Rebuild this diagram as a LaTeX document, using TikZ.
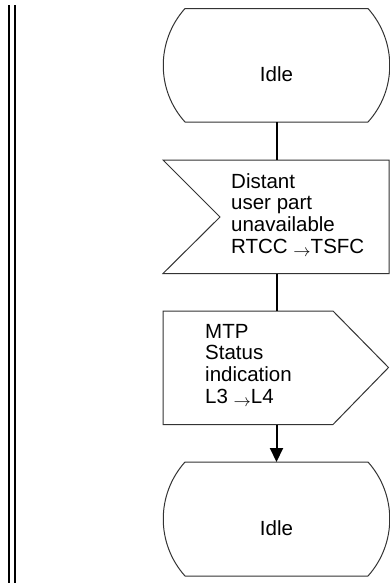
\documentclass[tikz,border=0pt]{standalone}
\usepackage{fontspec}
\setmainfont{Liberation Sans}
\usetikzlibrary{arrows.meta}
\newcommand{\sarr}{\raisebox{-3.5pt}{\fontsize{18}{18}\selectfont$\rightarrow$}}
\begin{document}
\begin{tikzpicture}[x=1pt,y=-1pt,
  outl/.style={draw=black!80, line width=1pt, line join=miter},
  conn/.style={draw=black, line width=2pt},
  rail/.style={draw=black, line width=2pt},
  lbl/.style={inner sep=0pt, font=\fontsize{20.5}{21.8}\selectfont}]
\useasboundingbox (0,0) rectangle (390,587);
% left rails
\draw[rail] (9,5) -- (9,582.5);
\draw[rail] (15,5) -- (15,582.5);
% top Idle state
\draw[outl] (185,8.5) -- (368,8.5) .. controls (397,41) and (397,90) .. (368,122)
  -- (185,122) .. controls (156,90) and (156,41) .. (185,8.5) -- cycle;
\node[lbl, anchor=base] (idle1) at (276.5,81) {Idle};
\coordinate (idle1b) at (276.5,122);
% input signal
\draw[outl] (163,160) -- (389,160) -- (389,273.5) -- (163,273.5) -- (220,217) -- cycle;
\coordinate (in1t) at (276.5,160);
\coordinate (in1b) at (276.5,273.5);
\node[lbl, anchor=base west] (in1) at (231,188) {\begin{tabular}[t]{@{}l@{}}Distant\\user part\\unavailable\\RTCC \sarr TSFC\end{tabular}};
% output signal
\draw[outl] (163,311) -- (333,311) -- (388.5,367.5) -- (333,424.5) -- (163,424.5) -- cycle;
\coordinate (out1t) at (276.5,311);
\coordinate (out1b) at (276.5,424.5);
\node[lbl, anchor=base west] (out1) at (205,338) {\begin{tabular}[t]{@{}l@{}}MTP\\Status\\indication\\L3 \sarr L4\end{tabular}};
% bottom Idle state
\draw[outl] (185,462) -- (368,462) .. controls (397,494.5) and (397,543.5) .. (368,576)
  -- (185,576) .. controls (156,543.5) and (156,494.5) .. (185,462) -- cycle;
\node[lbl, anchor=base] (idle2) at (276.5,535) {Idle};
\coordinate (idle2t) at (276.5,462);
% connectors
\draw[conn] (idle1b) -- (in1t);
\draw[conn] (in1b) -- (out1t);
\draw[conn, -{Triangle[width=13pt,length=14pt]}] (out1b) -- (idle2t);
\end{tikzpicture}
\end{document}
